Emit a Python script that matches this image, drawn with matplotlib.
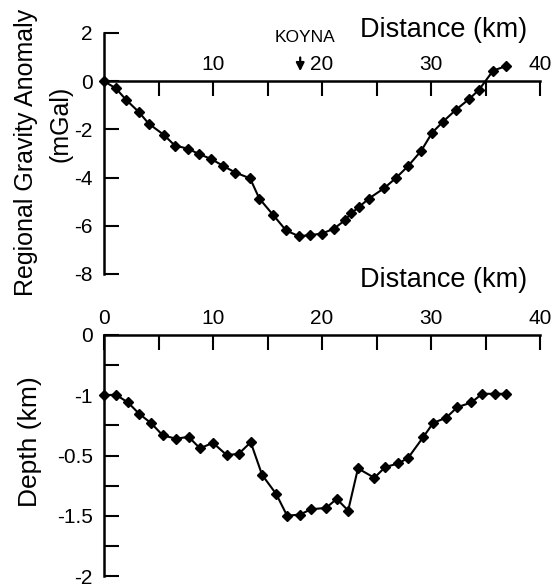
import matplotlib
matplotlib.use("Agg")
import matplotlib.pyplot as plt

plt.rcParams['font.family'] = ['Liberation Sans', 'DejaVu Sans']
plt.rcParams['axes.unicode_minus'] = False

# Regional gravity anomaly profile
grav_dist = [0, 1.1, 2.0, 3.2, 4.1, 5.5, 6.5, 7.7, 8.7, 9.85, 10.95, 12.05, 13.4,
             14.25, 15.5, 16.7, 17.86, 18.9, 20.0, 21.1, 22.1, 22.7, 23.4, 24.3,
             25.7, 26.8, 27.9, 29.1, 30.1, 31.1, 32.3, 33.5, 34.4, 35.7, 36.9]
grav_val = [0.0, -0.30, -0.76, -1.28, -1.76, -2.23, -2.67, -2.80, -3.02, -3.23,
            -3.52, -3.79, -4.03, -4.87, -5.54, -6.19, -6.43, -6.39, -6.32, -6.12,
            -5.77, -5.47, -5.22, -4.87, -4.44, -4.01, -3.52, -2.89, -2.14, -1.68,
            -1.18, -0.74, -0.36, 0.44, 0.63]

# Depth profile (plotted on the axis positions as labelled in the figure)
depth_dist = [0, 1.1, 2.2, 3.24, 4.34, 5.38, 6.57, 7.77, 8.8, 10.0, 11.26, 12.36,
              13.46, 14.5, 15.8, 16.8, 17.98, 19.0, 20.37, 21.35, 22.4, 23.3, 24.8,
              25.8, 27.0, 27.9, 29.3, 30.2, 31.4, 32.4, 33.7, 34.7, 35.9, 36.9]
depth_val = [-0.50, -0.496, -0.56, -0.655, -0.733, -0.832, -0.86, -0.846, -0.94,
             -0.895, -0.997, -0.986, -0.89, -1.16, -1.32, -1.50, -1.49, -1.446,
             -1.435, -1.36, -1.457, -1.107, -1.185, -1.096, -1.066, -1.02, -0.846,
             -0.73, -0.686, -0.60, -0.56, -0.488, -0.488, -0.488]

x_ticks = [5, 10, 15, 20, 25, 30, 35, 40]
x_labels_top = ['', '10', '', '20', '', '30', '', '40']
x_ticks_bot = [0, 5, 10, 15, 20, 25, 30, 35, 40]
x_labels_bot = ['0', '', '10', '', '20', '', '30', '', '40']
grav_yticks = [2, 0, -2, -4, -6, -8]
depth_yticks = [0, -0.5, -1, -1.5, -2]
depth_ylabels = ['0', '-1', '-0.5', '-1.5', '-2']
depth_minor = [-0.25, -0.75, -1.25, -1.75]
koyna_km = 18

W, H = 553, 587
fig = plt.figure(figsize=(W / 100, H / 100), dpi=100)


def px_axes(x0, y0, x1, y1):
    return fig.add_axes([x0 / W, 1 - y1 / H, (x1 - x0) / W, (y1 - y0) / H])


def style(ax):
    ax.spines['right'].set_visible(False)
    ax.spines['bottom'].set_visible(False)
    ax.spines['top'].set_position(('data', 0))
    for s in ('top', 'left'):
        ax.spines[s].set_linewidth(1.8)
    ax.xaxis.set_ticks_position('top')
    ax.tick_params(axis='x', direction='in', length=11, width=1.5,
                   labelsize=15, pad=5, bottom=False, labelbottom=False,
                   top=True, labeltop=True)
    ax.tick_params(axis='y', which='both', direction='in', length=11,
                   width=1.5, labelsize=15, pad=8)
    ax.set_xlim(0, 40)
    ax.patch.set_visible(False)


# Top panel: gravity
ax1 = px_axes(104, 33, 540, 274)
style(ax1)
ax1.set_ylim(-8, 2)
ax1.set_xticks(x_ticks)
ax1.set_xticklabels(x_labels_top)
ax1.set_yticks(grav_yticks)
ax1.plot(grav_dist, grav_val, color='black', lw=1.5, marker='D', ms=5,
         clip_on=False)
fig.text(305 / W, 1 - 37 / H, 'KOYNA', fontsize=12.5, ha='center',
         va='center')
ax1.annotate('', xy=(koyna_km, 0.3), xytext=(koyna_km, 1.1),
             arrowprops=dict(arrowstyle='-|>', color='black', lw=1.6,
                             mutation_scale=12))
fig.text(527 / W, 1 - 30 / H, 'Distance (km)', fontsize=19.5,
         ha='right', va='center')

# Bottom panel: depth
ax2 = px_axes(104, 335, 540, 576)
style(ax2)
ax2.set_ylim(-2, 0)
ax2.set_xticks(x_ticks_bot)
ax2.set_xticklabels(x_labels_bot)
ax2.set_yticks(depth_yticks)
ax2.set_yticklabels(depth_ylabels)
ax2.set_yticks(depth_minor, minor=True)
ax2.plot(depth_dist, depth_val, color='black', lw=1.5, marker='D', ms=5,
         clip_on=False)
fig.text(527 / W, 1 - 280 / H, 'Distance (km)', fontsize=19.5,
         ha='right', va='center')

fig.text(26 / W, 1 - 152 / H, 'Regional Gravity Anomaly', rotation=90,
         fontsize=18, ha='center', va='center')
fig.text(60 / W, 1 - 124 / H, '(mGal)', rotation=90, fontsize=18,
         ha='center', va='center')
fig.text(30 / W, 1 - 442 / H, 'Depth (km)', rotation=90, fontsize=19,
         ha='center', va='center')

fig.savefig('out.png', dpi=100)
